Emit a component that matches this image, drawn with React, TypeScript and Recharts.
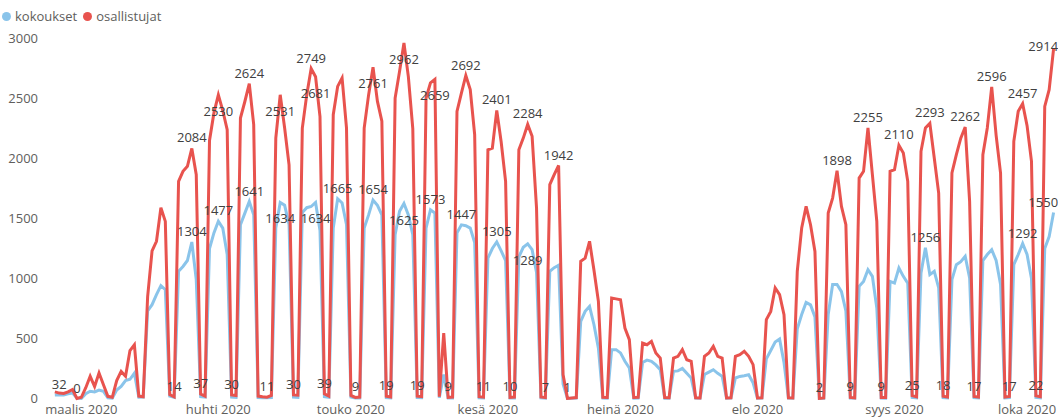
import React from 'react';
import { LineChart, Line, XAxis, YAxis, LabelList } from 'recharts';

// daily values, first point = ma 24.2.2020, one week per row
const kokoukset = [
  30, 32, 30, 40, 45, 3, 0,
  40, 60, 55, 70, 60, 5, 3,
  70, 100, 150, 160, 210, 10, 12,
  730, 782, 865, 940, 907, 20, 10,
  1060, 1100, 1150, 1304, 990, 15, 12,
  1250, 1380, 1477, 1420, 1200, 12, 10,
  1448, 1545, 1641, 1530, 8, 6, 6,
  8, 1420, 1634, 1610, 1450, 12, 10,
  1550, 1590, 1600, 1634, 1400, 15, 10,
  1420, 1665, 1630, 1448, 12, 5, 5,
  1420, 1530, 1654, 1610, 1530, 8, 5,
  1365, 1560, 1625, 1530, 1365, 8, 6,
  1420, 1573, 1545, 6, 200, 5, 5,
  1380, 1447, 1440, 1420, 1300, 6, 5,
  1170, 1250, 1305, 1230, 1150, 5, 5,
  1180, 1260, 1289, 1240, 1050, 5, 3,
  1060, 1090, 1110, 120, 1, 2, 3,
  643, 726, 768, 615, 420, 4, 3,
  407, 407, 380, 310, 254, 3, 4,
  300, 320, 310, 280, 240, 3, 3,
  226, 230, 250, 210, 170, 3, 2,
  200, 220, 240, 210, 185, 2, 3,
  171, 184, 190, 198, 130, 2, 3,
  330, 400, 470, 495, 300, 3, 2,
  580, 700, 800, 780, 680, 1, 2,
  700, 950, 950, 890, 730, 4, 3,
  935, 976, 1073, 1018, 754, 4, 3,
  976, 962, 1087, 1018, 960, 10, 6,
  1046, 1256, 1032, 1060, 921, 8, 5,
  990, 1115, 1140, 1185, 1004, 7, 5,
  1150, 1200, 1240, 1150, 950, 5, 7,
  1115, 1200, 1292, 1200, 1000, 9, 6,
  1250, 1350, 1550,
];

const osallistujat = [
  55, 45, 42, 55, 75, 0, 10,
  90, 185, 100, 212, 115, 18, 10,
  150, 226, 185, 400, 448, 20, 15,
  850, 1230, 1310, 1590, 1476, 32, 14,
  1810, 1893, 1935, 2084, 1865, 37, 20,
  2150, 2380, 2530, 2400, 2240, 30, 25,
  2337, 2475, 2624, 2282, 20, 15, 11,
  25, 2170, 2531, 2254, 1948, 30, 28,
  2254, 2530, 2749, 2681, 2350, 39, 20,
  2365, 2601, 2671, 2254, 25, 9, 12,
  2254, 2530, 2761, 2476, 2310, 19, 12,
  2504, 2726, 2962, 2680, 2250, 19, 15,
  2504, 2630, 2659, 15, 545, 9, 12,
  2393, 2545, 2692, 2574, 2200, 15, 11,
  2073, 2087, 2401, 2137, 1810, 10, 12,
  2073, 2170, 2284, 2185, 1587, 12, 7,
  1782, 1865, 1942, 200, 1, 5, 8,
  1143, 1170, 1310, 1068, 810, 10, 8,
  837, 830, 823, 587, 490, 8, 10,
  462, 448, 476, 379, 337, 8, 6,
  337, 351, 407, 323, 310, 6, 5,
  351, 379, 435, 351, 337, 5, 6,
  351, 365, 393, 351, 282, 5, 6,
  657, 726, 921, 865, 698, 6, 5,
  1060, 1421, 1601, 1448, 1225, 2, 5,
  1546, 1670, 1898, 1601, 1448, 9, 6,
  1837, 1893, 2255, 1865, 1476, 9, 8,
  1893, 1907, 2110, 2046, 1810, 25, 15,
  2060, 2254, 2293, 2004, 1712, 18, 12,
  1879, 2032, 2170, 2262, 1643, 17, 12,
  2032, 2254, 2596, 2193, 1879, 12, 17,
  2143, 2393, 2457, 2274, 1976, 22, 15,
  2434, 2573, 2914,
];

// day index of the 1st of each month
const monthTicks = [6, 37, 67, 98, 128, 159, 190, 220];
const monthLabels = ['maalis 2020', 'huhti 2020', 'touko 2020', 'kesä 2020', 'heinä 2020', 'elo 2020', 'syys 2020', 'loka 2020'];
const yTicks = [0, 500, 1000, 1500, 2000, 2500, 3000];

// points that carry a data label (above / below the line)
const redLabelsUp = [5, 27, 33, 40, 48, 54, 61, 68, 75, 82, 89, 97, 103, 111, 116, 173, 180, 187, 194, 201, 208, 216, 222,
  31, 44, 58, 93, 100, 107, 114, 177, 184, 191, 198, 206, 212, 219, 226];
const redLabelsDown = [37, 51, 59, 72, 79, 86];
const blueLabelsUp = [1, 31, 37, 44, 64, 72, 85, 92, 100, 197, 219, 226];
const blueLabelsDown = [51, 59, 79, 107];

const data = osallistujat.map((v, i) => ({ i, kokoukset: kokoukset[i], osallistujat: v }));

const colors = {
  blue: '#8AC4EA',
  red: '#E8534E',
  label: '#404040',
  axis: '#605E5C',
};
const font = "'Segoe UI', 'Open Sans', sans-serif";
const PLOT_TOP = 38.5;
const CHART_W = 1058;

const makeLabel = (up: number[], down: number[]) => (props: any) => {
  const { x, y, value, index } = props;
  const isUp = up.includes(index);
  if (!isUp && !down.includes(index)) return null;
  const w = String(value).length * 7.4;
  let cx = x;
  if (cx + w / 2 > CHART_W) cx = CHART_W - w / 2;
  let cy = isUp ? y - 10.5 : y + 16.5;
  if (cy < PLOT_TOP + 7.5) cy = PLOT_TOP + 7.5;
  return (
    <text key={`l-${index}`} x={cx} y={cy} dy="0.35em" textAnchor="middle" fill={colors.label} fontSize={13} fontFamily={font}>
      {value}
    </text>
  );
};

const LegendBar = () => (
  <div style={{ position: 'absolute', left: 2, top: 7, display: 'flex', alignItems: 'center', fontSize: 13, color: colors.axis, fontFamily: font }}>
    <span style={{ width: 9, height: 9, borderRadius: '50%', background: colors.blue, display: 'inline-block', marginRight: 4 }}></span>
    <span style={{ marginRight: 6 }}>kokoukset</span>
    <span style={{ width: 9, height: 9, borderRadius: '50%', background: colors.red, display: 'inline-block', marginRight: 4 }}></span>
    <span>osallistujat</span>
  </div>
);

export default function App() {
  return (
    <div style={{ position: 'absolute', left: 0, top: 0, width: CHART_W, height: 419, background: '#fff', fontFamily: font }}>
      <LegendBar />
      <LineChart width={CHART_W} height={419} data={data} margin={{ top: PLOT_TOP, right: 0, bottom: 0, left: 0 }}>
        <XAxis
          dataKey="i"
          type="number"
          domain={[-2, 227]}
          allowDataOverflow
          ticks={monthTicks}
          tickFormatter={(v: number) => monthLabels[monthTicks.indexOf(v)]}
          axisLine={false}
          tickLine={false}
          tickSize={4}
          height={20.5}
          tick={{ fill: colors.axis, fontSize: 13, fontFamily: font }}
          interval={0}
        />
        <YAxis
          domain={[0, 3000]}
          ticks={yTicks}
          axisLine={false}
          tickLine={false}
          width={46}
          tick={{ fill: colors.axis, fontSize: 13, fontFamily: font }}
        />
        <Line type="linear" dataKey="kokoukset" stroke={colors.blue} strokeWidth={3} dot={false} isAnimationActive={false}>
          <LabelList dataKey="kokoukset" content={makeLabel(blueLabelsUp, blueLabelsDown)} />
        </Line>
        <Line type="linear" dataKey="osallistujat" stroke={colors.red} strokeWidth={3} dot={false} isAnimationActive={false}>
          <LabelList dataKey="osallistujat" content={makeLabel(redLabelsUp, redLabelsDown)} />
        </Line>
      </LineChart>
    </div>
  );
}
